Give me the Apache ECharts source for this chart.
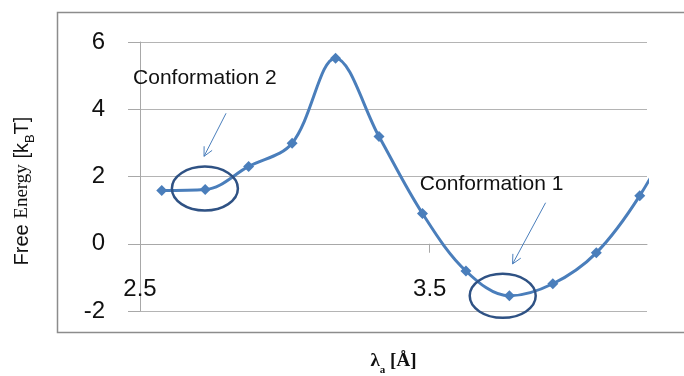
<!DOCTYPE html>
<html><head><meta charset="utf-8">
<script src="https://cdn.jsdelivr.net/npm/echarts@6/dist/echarts.min.js"></script>
<style>html,body{margin:0;padding:0;background:#fff}#c{width:684px;height:376px}</style>
</head><body><div id="c"></div>
<script>
// data (lambda_a in Å, free energy in kBT)
var xValues = [2.575, 2.725, 2.875, 3.025, 3.175, 3.325, 3.475, 3.625, 3.775, 3.925, 4.075, 4.225, 4.375];
var energy  = [1.58, 1.61, 2.3, 2.99, 5.52, 3.19, 0.9, -0.81, -1.55, -1.19, -0.27, 1.43, 3.8];
var xTicks = [2.5, 3.5];
var yTicks = [-2, 0, 2, 4, 6];
// annotations in data coordinates
var circles = [[2.724, 1.64], [3.752, -1.55]];
var arrows = [[[2.797, 3.88], [2.721, 2.60]], [[3.90, 1.22], [3.786, -0.60]]];
var notes = [["Conformation 2", 2.476, 4.93], ["Conformation 1", 3.466, 1.76]];

var chart = echarts.init(document.getElementById('c'));
var pts = xValues.map(function (x, i) { return [x, energy[i]]; });
var font = '"Liberation Sans", Arial, sans-serif';
var serif = '"Liberation Serif", "DejaVu Serif", serif';
var option = {
  animation: false,
  grid: {left: 140, right: 37, top: 42, bottom: 65, outerBoundsMode: 'none', containLabel: false},
  xAxis: {
    type: 'value', min: 2.5, max: 4.25, interval: 1, offset: 0,
    axisLine: {onZero: true, lineStyle: {color: '#a8a8a8', width: 1}},
    axisTick: {show: true, inside: false, length: 9, customValues: xTicks, lineStyle: {color: '#a8a8a8'}},
    axisLabel: {customValues: xTicks, margin: 34, fontSize: 24, color: '#111', fontFamily: font,
      formatter: function (v) { return v.toFixed(1); }},
    splitLine: {show: false},
    name: '{l|λ}{s|a}{l| [Å]}', nameLocation: 'middle', nameGap: 102,
    nameTextStyle: {rich: {
      l: {fontFamily: serif, fontWeight: 'bold', fontSize: 19, color: '#111', lineHeight: 22, verticalAlign: 'middle'},
      s: {fontFamily: serif, fontWeight: 'bold', fontSize: 11, color: '#111', lineHeight: 30, verticalAlign: 'bottom'}
    }}
  },
  yAxis: {
    type: 'value', min: yTicks[0], max: yTicks[yTicks.length - 1], interval: 2,
    axisLine: {show: true, onZero: false, lineStyle: {color: '#a8a8a8', width: 1}},
    axisTick: {show: true, length: 12, lineStyle: {color: '#a8a8a8'}},
    axisLabel: {margin: 35, fontSize: 24, color: '#111', fontFamily: font},
    splitLine: {show: true, lineStyle: {color: '#b4b4b4', width: 1}}
  },
  series: [{
    type: 'line', data: pts, smooth: 0.35, clip: true,
    symbol: 'diamond', symbolSize: 11, showSymbol: true,
    lineStyle: {color: '#4a7ebb', width: 3},
    itemStyle: {color: '#4a7ebb'}
  }]
};
chart.setOption(option);

function px(p) { return chart.convertToPixel({gridIndex: 0}, p); }
// put the x axis at y = 0
var zeroY = px([2.5, 0])[1];
var bottomY = px([2.5, yTicks[0]])[1];
chart.setOption({xAxis: {offset: -(bottomY - zeroY)}});

var g = [];
// outer frame
g.push({type: 'polyline', shape: {points: [[690, 12.5], [57.5, 12.5], [57.5, 332.5], [690, 332.5]]},
  style: {stroke: '#8c8c8c', lineWidth: 1.5, fill: null}, z: 1});
// y axis title
g.push({type: 'text', x: 22, y: 191, rotation: Math.PI / 2, z: 5,
  style: {text: '{a|Free }{b|Energy}{a| [k}{s|B}{a|T]}', align: 'center', verticalAlign: 'middle',
    rich: {
      a: {fontFamily: font, fontSize: 20, fill: '#111', lineHeight: 22, verticalAlign: 'middle'},
      b: {fontFamily: serif, fontSize: 19, fill: '#111', lineHeight: 22, verticalAlign: 'middle'},
      s: {fontFamily: font, fontSize: 13, fill: '#111', lineHeight: 30, verticalAlign: 'bottom'}
    }}});
circles.forEach(function (c) {
  var p = px(c);
  g.push({type: 'ellipse', shape: {cx: p[0], cy: p[1], rx: 33, ry: 22},
    style: {stroke: '#2f5284', lineWidth: 2.5, fill: null}, z: 10});
});
arrows.forEach(function (a) {
  var s = px(a[0]), e = px(a[1]);
  var dx = e[0] - s[0], dy = e[1] - s[1], L = Math.sqrt(dx * dx + dy * dy);
  var ux = dx / L, uy = dy / L, h = 9, w = 4.5;
  g.push({type: 'line', shape: {x1: s[0], y1: s[1], x2: e[0], y2: e[1]},
    style: {stroke: '#4a7ebb', lineWidth: 1}, z: 10});
  g.push({type: 'polyline', shape: {points: [
    [e[0] - ux * h - uy * w, e[1] - uy * h + ux * w], [e[0], e[1]], [e[0] - ux * h + uy * w, e[1] - uy * h - ux * w]]},
    style: {stroke: '#4a7ebb', lineWidth: 1, fill: null}, z: 10});
});
notes.forEach(function (n) {
  var p = px([n[1], n[2]]);
  g.push({type: 'text', x: p[0], y: p[1], style: {text: n[0], font: '21px ' + font, fill: '#111',
    textAlign: 'left', textVerticalAlign: 'middle'}, z: 11});
});
chart.setOption({graphic: g});
</script></body></html>
